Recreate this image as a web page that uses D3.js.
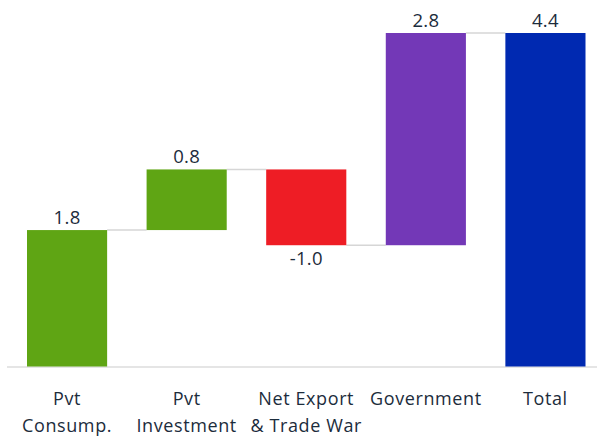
<!DOCTYPE html>
<html><head><meta charset="utf-8">
<script src="https://cdn.jsdelivr.net/npm/d3@7"></script>
<style>body{margin:0;background:#fff}svg{display:block}</style>
</head><body>
<svg id="c" width="597" height="436"></svg>
<script>
const categories = [["Pvt","Consump."],["Pvt","Investment"],["Net Export","& Trade War"],["Government"],["Total"]];
const values = [1.8, 0.8, -1.0, 2.8, 4.4];
const isTotal = [false, false, false, false, true];
const colors = ["#5fa514", "#5fa514", "#ee1d25", "#7338b7", "#0029b1"];
const valueLabels = ["1.8", "0.8", "-1.0", "2.8", "4.4"];

const svg = d3.select("#c");
const ids = categories.map((c,i)=>i);
const x = d3.scaleBand().domain(ids).range([27, 585.5]).paddingInner(0.33).paddingOuter(0);
const y = d3.scaleLinear().domain([0, 4.4]).range([366.5, 33]);

let cum = 0;
const bars = values.map((v,i)=>{
  let start, end;
  if (isTotal[i]) { start = 0; end = v; cum = v; }
  else { start = cum; end = cum + v; cum = end; }
  return {i, v, start, end};
});

const textColor = "#1c2c3c";
const font = "'Open Sans', sans-serif";

// axis baseline
svg.append("line").attr("x1",7).attr("x2",597).attr("y1",y(0)+0.5).attr("y2",y(0)+0.5)
  .attr("stroke","#dcdcdc").attr("stroke-width",1.5);

// connectors
for (let k=0;k<bars.length-1;k++){
  const yy = y(bars[k].end);
  svg.append("line")
    .attr("x1", x(k)+x.bandwidth()).attr("x2", x(k+1))
    .attr("y1", yy).attr("y2", yy)
    .attr("stroke","#d6d6d6").attr("stroke-width",1.5);
}

svg.selectAll("rect.bar").data(bars).enter().append("rect")
  .attr("x", d=>x(d.i)).attr("width", x.bandwidth())
  .attr("y", d=>y(Math.max(d.start,d.end)))
  .attr("height", d=>Math.abs(y(d.start)-y(d.end)))
  .attr("fill", d=>colors[d.i]);

svg.selectAll("text.val").data(bars).enter().append("text")
  .attr("x", d=>x(d.i)+x.bandwidth()/2)
  .attr("y", d=> d.v>=0 ? y(Math.max(d.start,d.end))-6 : y(Math.min(d.start,d.end))+19.5)
  .attr("text-anchor","middle")
  .attr("font-family",font).attr("font-size",18.5).attr("letter-spacing",0.3).attr("fill",textColor)
  .text(d=>valueLabels[d.i]);

categories.forEach((lines,i)=>{
  const t = svg.append("text").attr("text-anchor","middle")
    .attr("font-family",font).attr("font-size",18).attr("letter-spacing",0.6).attr("fill",textColor);
  lines.forEach((ln,j)=>{
    t.append("tspan").attr("x", x(i)+x.bandwidth()/2).attr("y", 405 + j*27).text(ln);
  });
});
</script>
</body></html>
